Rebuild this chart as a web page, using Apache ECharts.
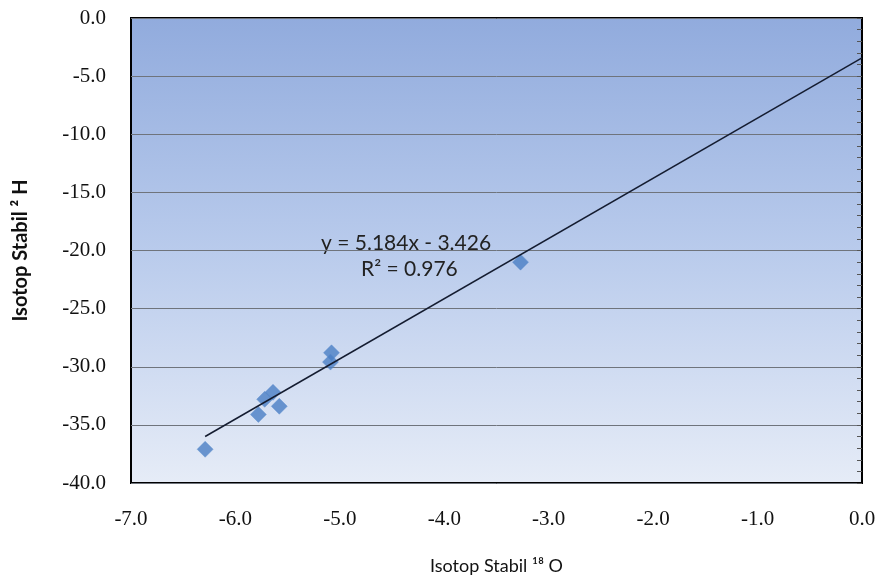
<!DOCTYPE html>
<html lang="en" style="height: 100%">
<head>
  <meta charset="utf-8">
</head>
<body style="height: 100%; margin: 0; background: #fff">
  <div id="container" style="width: 876px; height: 583px"></div>
  <script src="https://cdn.jsdelivr.net/npm/echarts@6/dist/echarts.min.js"></script>
  <script>
    // isotope samples (delta 18O, delta 2H)
    const o18 = [-6.29, -5.78, -5.72, -5.64, -5.58, -5.08, -5.09, -3.27];
    const h2 = [-37.1, -34.1, -32.8, -32.2, -33.4, -28.8, -29.6, -21.0];
    // linear trend line endpoints
    const trendX = [-6.29, 0.0];
    const trendY = [-36.0, -3.43];
    const equation = 'y = 5.184x - 3.426';
    const rSquared = 'R² = 0.976';

    const points = o18.map((x, i) => [x, h2[i]]);
    const trend = trendX.map((x, i) => [x, trendY[i]]);

    const chart = echarts.init(document.getElementById('container'), null, { renderer: 'canvas' });

    const option = {
      animation: false,
      grid: {
        left: 131, top: 18, width: 731, height: 465,
        outerBoundsMode: 'none',
        containLabel: false,
        show: true,
        borderColor: '#000',
        borderWidth: 2,
        backgroundColor: new echarts.graphic.LinearGradient(0, 0, 0, 1, [
          { offset: 0, color: '#91abdd' },
          { offset: 0.5, color: '#b9cbec' },
          { offset: 1, color: '#e6ecf7' }
        ])
      },
      xAxis: {
        type: 'value', min: -7, max: 0, interval: 1,
        axisLine: { show: false },
        axisTick: { show: false },
        splitLine: { show: false },
        axisLabel: {
          margin: 26, fontFamily: 'Liberation Serif', fontSize: 21, color: '#111',
          formatter: v => v.toFixed(1)
        },
        name: 'Isotop Stabil ¹⁸ O',
        nameLocation: 'middle',
        nameGap: 74,
        nameTextStyle: { fontFamily: 'Lato', fontSize: 18, color: '#111' }
      },
      yAxis: [{
        type: 'value', min: -40, max: 0, interval: 5,
        axisLine: { show: false },
        axisTick: { show: false },
        splitLine: { lineStyle: { color: '#6f747c', width: 1 } },
        axisLabel: {
          margin: 25, fontFamily: 'Liberation Serif', fontSize: 21, color: '#111',
          formatter: v => v.toFixed(1)
        },
        name: 'Isotop Stabil ² H',
        nameLocation: 'middle',
        nameGap: 100,
        nameTextStyle: { fontFamily: 'Lato', fontWeight: 'bold', fontSize: 20, color: '#111' }
      }, {
        type: 'value', min: -40, max: 0, interval: 1, position: 'right',
        axisLine: { show: false },
        axisTick: { show: true, inside: true, length: 5, lineStyle: { color: '#555' } },
        axisLabel: { show: false },
        splitLine: { show: false }
      }],
      graphic: [
        { type: 'text', left: 321, top: 233, style: { text: equation, font: '21px Lato', fill: '#222' } },
        { type: 'text', left: 361, top: 259, style: { text: rSquared, font: '21px Lato', fill: '#222' } }
      ],
      series: [{
        type: 'line',
        data: trend,
        symbol: 'none',
        lineStyle: { color: '#141c30', width: 1.5 },
        z: 3
      }, {
        type: 'scatter',
        data: points,
        symbol: 'diamond',
        symbolSize: 16,
        itemStyle: { color: '#4a7ec4', borderColor: '#5a8ccc', borderWidth: 0.5 },
        z: 2
      }]
    };

    chart.setOption(option);
    window.addEventListener('resize', chart.resize);
  </script>
</body>
</html>
